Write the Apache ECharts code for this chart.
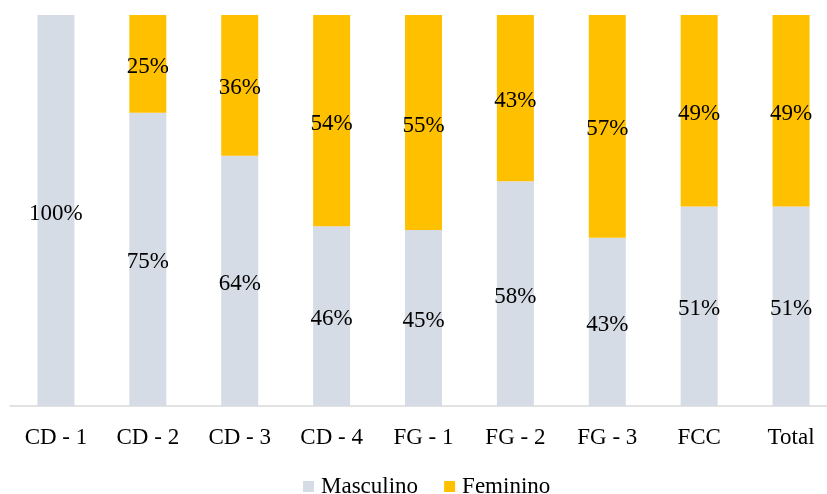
<!DOCTYPE html>
<html><head><meta charset="utf-8">
<script src="https://cdn.jsdelivr.net/npm/echarts@6/dist/echarts.min.js"></script>
<style>html,body{margin:0;padding:0;background:#fff}#c{width:827px;height:494px}</style>
</head><body><div id="c"></div>
<script>
const categories = ["CD - 1","CD - 2","CD - 3","CD - 4","FG - 1","FG - 2","FG - 3","FCC","Total"];
const masculino = [100,75,64,46,45,57.5,43,51,51];
const feminino = [0,25,36,54,55,42.5,57,49,49];
const font = "'Liberation Serif','Times New Roman',serif";
const chart = echarts.init(document.getElementById('c'));
const lbl = {show:true,position:'inside',offset:[0,3],color:'#000',fontFamily:font,fontSize:23,
  formatter:p=>p.value>0?Math.round(p.value)+'%':''};
chart.setOption({
  animation:false,
  grid:{left:10,width:827,top:15,bottom:88,outerBoundsMode:'none',containLabel:false},
  legend:{left:303,top:475,padding:0,itemWidth:11,itemHeight:11,itemGap:26,icon:'rect',
    textStyle:{fontFamily:font,fontSize:23,color:'#000',padding:[0,0,0,2]},data:['Masculino','Feminino']},
  xAxis:{type:'category',data:categories,axisTick:{show:false},
    axisLine:{lineStyle:{color:'#D9D9D9',width:1.5}},
    axisLabel:{fontFamily:font,fontSize:23,color:'#000',margin:20}},
  yAxis:{type:'value',min:0,max:100,show:false,splitLine:{show:false}},
  series:[
    {name:'Masculino',type:'bar',stack:'a',barWidth:37,data:masculino,itemStyle:{color:'#D6DCE5'},label:lbl},
    {name:'Feminino',type:'bar',stack:'a',barWidth:37,data:feminino,itemStyle:{color:'#FFC000'},label:lbl}
  ]
});
</script></body></html>
